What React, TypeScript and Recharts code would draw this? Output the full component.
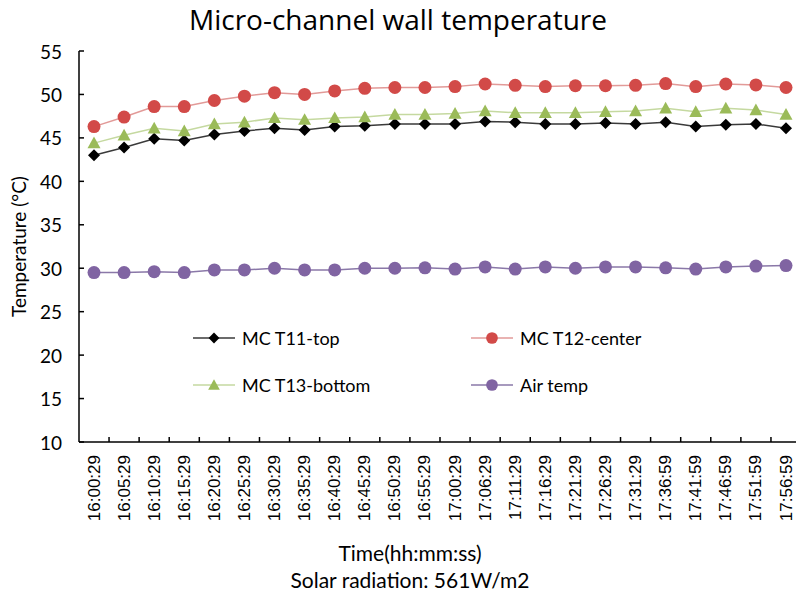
import React from "react"
import { LineChart, Line, XAxis, YAxis, Legend } from "recharts"

const times = [
  "16:00:29", "16:05:29", "16:10:29", "16:15:29", "16:20:29", "16:25:29",
  "16:30:29", "16:35:29", "16:40:29", "16:45:29", "16:50:29", "16:55:29",
  "17:00:29", "17:06:29", "17:11:29", "17:16:29", "17:21:29", "17:26:29",
  "17:31:29", "17:36:59", "17:41:59", "17:46:59", "17:51:59", "17:56:59",
]
const t11Top = [43.0, 43.9, 44.9, 44.7, 45.4, 45.8, 46.1, 45.9, 46.3, 46.4, 46.6, 46.6, 46.6, 46.9, 46.8, 46.6, 46.6, 46.7, 46.6, 46.8, 46.3, 46.5, 46.6, 46.1]
const t12Center = [46.3, 47.4, 48.6, 48.6, 49.3, 49.8, 50.2, 50.0, 50.4, 50.7, 50.8, 50.8, 50.9, 51.2, 51.05, 50.9, 51.0, 51.0, 51.05, 51.25, 50.9, 51.2, 51.1, 50.8]
const t13Bottom = [44.4, 45.3, 46.1, 45.8, 46.6, 46.8, 47.3, 47.1, 47.3, 47.4, 47.7, 47.7, 47.8, 48.1, 47.9, 47.9, 47.9, 48.0, 48.1, 48.4, 48.0, 48.4, 48.2, 47.7]
const airTemp = [29.5, 29.5, 29.6, 29.5, 29.8, 29.8, 30.0, 29.8, 29.8, 30.0, 30.0, 30.05, 29.9, 30.15, 29.9, 30.15, 30.0, 30.15, 30.15, 30.05, 29.9, 30.15, 30.25, 30.3]
const yTicks = [10, 15, 20, 25, 30, 35, 40, 45, 50, 55]

const data = times.map((time, i) => ({
  time,
  t11: t11Top[i],
  t12: t12Center[i],
  t13: t13Bottom[i],
  air: airTemp[i],
}))

type Shape = "diamond" | "circle" | "triangle"

const series: { key: string; name: string; line: string; fill: string; shape: Shape }[] = [
  { key: "t11", name: "MC T11-top", line: "#3a3a3a", fill: "#000000", shape: "diamond" },
  { key: "t12", name: "MC T12-center", line: "#e29a98", fill: "#d24a48", shape: "circle" },
  { key: "t13", name: "MC T13-bottom", line: "#c5d9a0", fill: "#9bbb59", shape: "triangle" },
  { key: "air", name: "Air temp", line: "#8a78a8", fill: "#8064a2", shape: "circle" },
]

const CHART_W = 804
const CHART_H = 595
const MARGIN = { top: 51, right: 3, bottom: 53, left: 0 }
const Y_AXIS_W = 79
const PAD = 15
const STEP = (CHART_W - MARGIN.left - MARGIN.right - Y_AXIS_W - 2 * PAD) / (times.length - 1)

const calibri = "Lato, 'Open Sans', sans-serif"
const arial = "'Liberation Sans', Arial, sans-serif"

function Marker({ cx, cy, shape, fill, s = 1 }: { cx: number; cy: number; shape: Shape; fill: string; s?: number }) {
  if (shape === "diamond") {
    const h = 6 * s
    return <path d={`M${cx},${cy - h}L${cx + h},${cy}L${cx},${cy + h}L${cx - h},${cy}Z`} fill={fill} />
  }
  if (shape === "triangle") {
    const h = 6.5 * s
    return <path d={`M${cx},${cy - h}L${cx + h},${cy + h * 0.8}L${cx - h},${cy + h * 0.8}Z`} fill={fill} />
  }
  return <circle cx={cx} cy={cy} r={6.5 * s} fill={fill} />
}

// excel style: tick marks sit between categories and point up into the plot
const XTick = ({ x, y, payload }: any) => (
  <g>
    <line x1={x + STEP / 2} x2={x + STEP / 2} y1={y} y2={y - 5} stroke="#000" strokeWidth={1.5} />
    <text
      x={x}
      y={y + 13}
      transform={`rotate(-90 ${x} ${y + 13})`}
      textAnchor="end"
      dominantBaseline="central"
      fontSize={17}
      fontFamily={arial}
      fill="#000"
    >
      {payload.value}
    </text>
  </g>
)

const YTick = ({ x, y, payload }: any) => (
  <g>
    <line x1={x} x2={x + 5} y1={y} y2={y} stroke="#000" strokeWidth={1.5} />
    <text x={x - 17} y={y} textAnchor="end" dominantBaseline="central" fontSize={19} fontFamily={calibri} fill="#000">
      {payload.value}
    </text>
  </g>
)

const legendPos = [
  { left: 193, top: 338 },
  { left: 471, top: 338 },
  { left: 193, top: 385 },
  { left: 471, top: 385 },
]

const renderLegend = (props: any) => {
  const payload = props.payload || []
  return (
    <div style={{ position: "relative", width: 796, height: 0 }}>
      {series.map((s, i) => {
        const entry = payload.find((p: any) => p.dataKey === s.key)
        const pos = legendPos[i]
        return (
          <div
            key={s.key}
            style={{
              position: "absolute",
              left: pos.left,
              top: pos.top - 12,
              height: 24,
              display: "flex",
              alignItems: "center",
              whiteSpace: "nowrap",
            }}
          >
            <svg width={42} height={24}>
              <line x1={0} x2={42} y1={12} y2={12} stroke={s.line} strokeWidth={1.5} />
              <Marker cx={21} cy={12} shape={s.shape} fill={s.fill} s={0.9} />
            </svg>
            <span style={{ marginLeft: 7, fontFamily: calibri, fontSize: 18, color: "#000" }}>
              {entry ? entry.value : s.name}
            </span>
          </div>
        )
      })}
    </div>
  )
}

export default function App() {
  return (
    <div
      style={{
        position: "fixed",
        left: 0,
        top: 0,
        width: 796,
        height: 595,
        overflow: "hidden",
        background: "#fff",
      }}
    >
      <div
        style={{
          position: "absolute",
          left: 0,
          width: 796,
          top: 4,
          textAlign: "center",
          fontFamily: "'Open Sans', sans-serif",
          fontSize: 28,
          lineHeight: "30px",
          color: "#000",
        }}
      >
        Micro-channel wall temperature
      </div>
      <LineChart width={CHART_W} height={CHART_H} data={data} margin={MARGIN}>
        <XAxis
          dataKey="time"
          interval={0}
          height={100}
          padding={{ left: PAD, right: PAD }}
          tickSize={0}
          tickMargin={0}
          tick={<XTick />}
          axisLine={{ stroke: "#000", strokeWidth: 1.5 }}
        />
        <YAxis
          width={Y_AXIS_W}
          domain={[10, 55]}
          ticks={yTicks}
          tickSize={0}
          tickMargin={0}
          interval={0}
          allowDataOverflow
          axisLine={{ stroke: "#000", strokeWidth: 1.5 }}
          tickLine={false}
          tick={<YTick />}
          label={{
            value: "Temperature (°C)",
            angle: -90,
            position: "insideLeft",
            offset: 19,
            style: { textAnchor: "middle", fill: "#000", fontSize: 19, fontFamily: calibri },
          }}
        />
        <Legend
          layout="horizontal"
          verticalAlign="middle"
          align="center"
          content={renderLegend}
          wrapperStyle={{ left: 0, top: 0, width: 796, height: 0 }}
        />
        {series.map((s) => (
          <Line
            key={s.key}
            dataKey={s.key}
            name={s.name}
            type="linear"
            stroke={s.line}
            strokeWidth={1.5}
            isAnimationActive={false}
            dot={(p: any) => <Marker key={`${s.key}-${p.index}`} cx={p.cx} cy={p.cy} shape={s.shape} fill={s.fill} />}
            activeDot={false}
          />
        ))}
      </LineChart>
      <div
        style={{
          position: "absolute",
          left: 260,
          width: 300,
          top: 539,
          textAlign: "center",
          fontFamily: calibri,
          fontSize: 21,
          lineHeight: "27px",
          color: "#000",
        }}
      >
        <div>Time(hh:mm:ss)</div>
        <div>Solar radiation: 561W/m2</div>
      </div>
    </div>
  )
}
